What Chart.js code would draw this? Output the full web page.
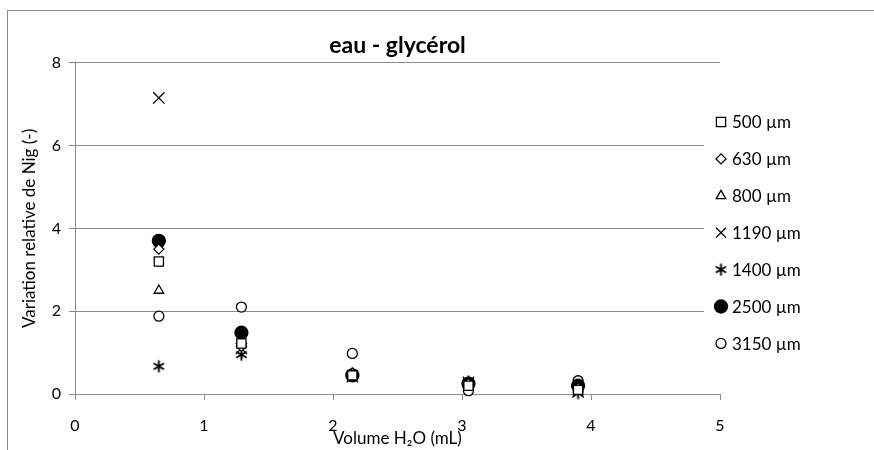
<!DOCTYPE html>
<html>
<head>
<meta charset="utf-8">
<script src="https://cdn.jsdelivr.net/npm/chart.js@4.4.1/dist/chart.umd.min.js"></script>
<style>
  html, body { margin: 0; padding: 0; background: #fff; }
  #wrap { width: 874px; height: 450px; }
</style>
</head>
<body>
<div id="wrap"><canvas id="myChart"></canvas></div>
<script>
// x positions (Volume H2O, mL)
const volumes = [0.65, 1.29, 2.15, 3.05, 3.9];

// relative variation of Nig for each sieve size
const labels = ['500 µm', '630 µm', '800 µm', '1190 µm', '1400 µm', '2500 µm', '3150 µm'];
const s500 = [3.2, 1.22, 0.45, 0.2, 0.1];
const s630 = [3.5, 1.15, 0.5, 0.25, 0.15];
const s800 = [2.5, 1.25, 0.48, 0.22, 0.12];
const s1190 = [7.15, 1.1, 0.42, 0.28, 0.05];
const s1400 = [0.67, 0.95, 0.5, 0.3, 0.02];
const s2500 = [3.7, 1.48, 0.45, 0.25, 0.2];
const s3150 = [1.88, 2.1, 0.98, 0.08, 0.32];

const xTicks = [0, 1, 2, 3, 4, 5];
const yTicks = [0, 2, 4, 6, 8];

const GRAY = '#8a8a8a';
const FONT = 'Lato, "Open Sans", sans-serif';

// asterisk marker (6 arms) like the excel one
function makeAsterisk(r) {
    const c = document.createElement('canvas');
    const size = Math.ceil(r * 2 + 3);
    c.width = size; c.height = size;
    const g = c.getContext('2d');
    const m = size / 2;
    g.strokeStyle = '#000';
    g.lineWidth = 1.9;
    g.beginPath();
    for (let i = 0; i < 3; i++) {
        const a = Math.PI / 2 + i * Math.PI / 3;
        g.moveTo(m + Math.cos(a) * r, m + Math.sin(a) * r);
        g.lineTo(m - Math.cos(a) * r, m - Math.sin(a) * r);
    }
    g.stroke();
    return c;
}
const asterisk = makeAsterisk(6);

function toPoints(arr) {
    let pts = [];
    for (let i = 0; i < arr.length; i++) {
        pts.push({ x: volumes[i], y: arr[i] });
    }
    return pts;
}

function ds(label, arr, style, radius, fill) {
    return {
        label: label,
        data: toPoints(arr),
        pointStyle: style,
        pointRadius: radius,
        pointHoverRadius: radius,
        pointBackgroundColor: fill,
        pointBorderColor: '#000',
        pointBorderWidth: 1.3,
        clip: false
    };
}

const datasets = [
    ds(labels[0], s500, 'rect', 6.5, '#fff'),
    ds(labels[1], s630, 'rectRot', 5, '#fff'),
    ds(labels[2], s800, 'triangle', 5.5, '#fff'),
    ds(labels[3], s1190, 'crossRot', 8, '#fff'),
    ds(labels[4], s1400, asterisk, 6, '#fff'),
    ds(labels[5], s2500, 'circle', 6.5, '#000'),
    ds(labels[6], s3150, 'circle', 5, '#fff')
];

// frame around the chart + legend on the right
const decor = {
    id: 'decor',
    afterDraw(chart) {
        const c = chart.ctx;
        c.save();
        c.strokeStyle = GRAY;
        c.lineWidth = 1;
        c.strokeRect(7.5, 10.5, 1000, 1000);
        // legend box (white, hides the gridlines behind)
        c.fillStyle = '#fff';
        c.fillRect(704, 100, 120, 262);
        chart.data.datasets.forEach((d, i) => {
            const y = 122 + i * 36.9;
            c.fillStyle = d.pointBackgroundColor;
            c.strokeStyle = '#000';
            c.lineWidth = 1.3;
            Chart.helpers.drawPoint(c, {
                pointStyle: d.pointStyle,
                radius: d.pointRadius === 8 ? 7 : d.pointRadius,
                rotation: 0,
                borderWidth: 1.3
            }, 721, y);
            c.fillStyle = '#000';
            c.font = '17px ' + FONT;
            c.textBaseline = 'middle';
            c.textAlign = 'left';
            c.fillText(d.label, 732, y + 1);
        });
        c.restore();
    }
};

new Chart(document.getElementById('myChart').getContext('2d'), {
    type: 'scatter',
    data: { datasets: datasets },
    plugins: [decor],
    options: {
        responsive: true,
        maintainAspectRatio: false,
        animation: false,
        events: [],
        layout: { padding: { left: 0, top: 0, right: 154, bottom: 0 } },
        plugins: {
            legend: { display: false },
            tooltip: { enabled: false },
            title: {
                display: true,
                text: 'eau - glycérol',
                fullSize: false,
                color: '#000',
                font: { family: FONT, size: 23, weight: 'bold', lineHeight: 1.2 },
                padding: { top: 32, bottom: 3.2 }
            }
        },
        scales: {
            x: {
                type: 'linear',
                min: 0,
                max: 5,
                afterFit: s => { s.height = 56; },
                afterBuildTicks: s => { s.ticks = xTicks.map(v => ({ value: v })); },
                grid: { drawOnChartArea: false, drawTicks: true, tickLength: 6, color: GRAY },
                border: { display: true, color: GRAY },
                ticks: { color: '#000', padding: 16, font: { family: FONT, size: 16 } },
                title: {
                    display: true,
                    text: 'Volume H₂O (mL)',
                    color: '#000',
                    font: { family: FONT, size: 17 },
                    padding: { top: 0, bottom: 1 }
                }
            },
            y: {
                type: 'linear',
                min: 0,
                max: 8,
                afterFit: s => { s.width = 75; },
                afterBuildTicks: s => { s.ticks = yTicks.map(v => ({ value: v })); },
                grid: { color: GRAY, tickLength: 6 },
                border: { display: true, color: GRAY },
                ticks: { color: '#000', padding: 8, font: { family: FONT, size: 16 } },
                title: {
                    display: true,
                    text: 'Variation relative de Nig (-)',
                    color: '#000',
                    font: { family: FONT, size: 17 },
                    padding: { top: 19, bottom: 0 }
                }
            }
        }
    }
});
</script>
</body>
</html>
